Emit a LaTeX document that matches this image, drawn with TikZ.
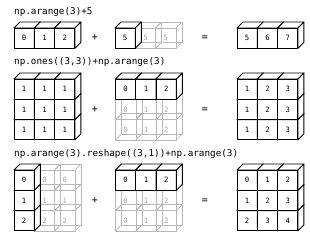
\documentclass[tikz,border=0pt]{standalone}
\usepackage{fontspec}
\newfontfamily\monofont{DejaVu Sans Mono}
\tikzset{
  solid cube/.style={draw=black,fill=white,line width=0.9pt,line join=round},
  ghost cube/.style={draw=black!28,line width=0.6pt},
  cell label/.style={font=\monofont\fontsize{7.3}{8}\selectfont,text=black},
  ghost label/.style={font=\monofont\fontsize{7.3}{8}\selectfont,text=black!35},
  title/.style={font=\monofont\fontsize{9.3}{11}\selectfont,anchor=west,inner sep=0pt},
  op/.style={font=\monofont\fontsize{10}{12}\selectfont}
}
\def\cs{20.3}
\def\cd{6}
% solid cube: name, x, y (front top-left corner), label
\newcommand{\scube}[4]{%
  \filldraw[solid cube] (#2,#3) rectangle ++(\cs,\cs);
  \filldraw[solid cube] (#2,#3) -- ++(\cd,-\cd) -- ++(\cs,0) -- ++(-\cd,\cd) -- cycle;
  \filldraw[solid cube] (#2+\cs,#3) -- ++(\cd,-\cd) -- ++(0,\cs) -- ++(-\cd,\cd) -- cycle;
  \node[cell label] (#1) at (#2+\cs/2,#3+\cs/2) {#4};}
% ghost cube: wire frame
\newcommand{\gcube}[4]{%
  \draw[ghost cube] (#2,#3) rectangle ++(\cs,\cs);
  \draw[ghost cube] (#2+\cd,#3-\cd) rectangle ++(\cs,\cs);
  \draw[ghost cube] (#2,#3) -- ++(\cd,-\cd) (#2+\cs,#3) -- ++(\cd,-\cd)
    (#2,#3+\cs) -- ++(\cd,-\cd) (#2+\cs,#3+\cs) -- ++(\cd,-\cd);
  \node[ghost label] (#1) at (#2+\cs/2,#3+\cs/2) {#4};}
\begin{document}
\begin{tikzpicture}[x=1pt,y=-1pt]
  \useasboundingbox (0,0) rectangle (310,237);
  % row 1
  \node[title] (t1) at (14,12) {np.arange(3)+5};
  \foreach \c in {0,1,2} {\scube{a1-\c}{14+\c*\cs}{28}{\c}}
  \foreach \c in {1,2} {\gcube{b1-\c}{115+\c*\cs}{28}{5}}
  \scube{b1-0}{115}{28}{5}
  \foreach \c [count=\v from 5] in {0,1,2} {\scube{c1-\c}{237+\c*\cs}{28}{\v}}
  \node[op] (p1) at (95,38) {+};
  \node[op] (e1) at (205,38) {=};
  % row 2
  \node[title] (t2) at (14,61.5) {np.ones((3,3))+np.arange(3)};
  \foreach \r in {2,1,0} {
    \foreach \c in {0,1,2} {\scube{a2-\r\c}{14+\c*\cs}{79+\r*\cs}{1}}
  }
  \foreach \r in {2,1} {
    \foreach \c in {0,1,2} {\gcube{b2-\r\c}{115.5+\c*\cs}{79+\r*\cs}{\c}}
  }
  \foreach \c in {0,1,2} {\scube{b2-0\c}{115.5+\c*\cs}{79}{\c}}
  \foreach \r in {2,1,0} {
    \foreach \c [count=\v from 1] in {0,1,2} {\scube{c2-\r\c}{237+\c*\cs}{79+\r*\cs}{\v}}
  }
  \node[op] (p2) at (95,110) {+};
  \node[op] (e2) at (205,110) {=};
  % row 3
  \node[title] (t3) at (14,154) {np.arange(3).reshape((3,1))+np.arange(3)};
  \foreach \r in {2,1,0} {
    \foreach \c in {1,2} {\gcube{a3-\r\c}{14+\c*\cs}{170+\r*\cs}{\r}}
  }
  \foreach \r in {2,1,0} {\scube{a3-\r0}{14}{170+\r*\cs}{\r}}
  \foreach \r in {2,1} {
    \foreach \c in {0,1,2} {\gcube{b3-\r\c}{115.5+\c*\cs}{170+\r*\cs}{\c}}
  }
  \foreach \c in {0,1,2} {\scube{b3-0\c}{115.5+\c*\cs}{170}{\c}}
  \foreach \r in {2,1,0} {
    \foreach \c in {0,1,2} {
      \pgfmathtruncatemacro\v{\r+\c}
      \scube{c3-\r\c}{237+\c*\cs}{170+\r*\cs}{\v}
    }
  }
  \node[op] (p3) at (95,201) {+};
  \node[op] (e3) at (205,201) {=};
\end{tikzpicture}
\end{document}
